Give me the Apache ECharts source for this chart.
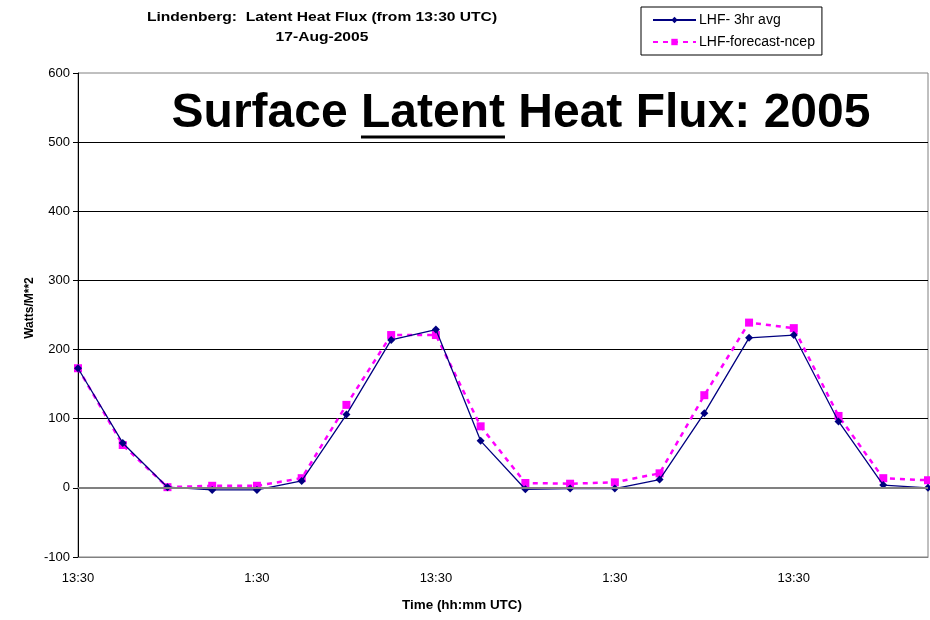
<!DOCTYPE html>
<html>
<head>
<meta charset="utf-8">
<script src="https://cdn.jsdelivr.net/npm/echarts@6/dist/echarts.min.js"></script>
<style>
  html, body { margin: 0; padding: 0; background: #fff; }
  #chart { width: 930px; height: 620px; }
</style>
</head>
<body>
<div id="chart"></div>
<script>
// 3-hourly time steps starting 13:30 UTC
const timeLabels = [
  '13:30', '16:30', '19:30', '22:30', '1:30', '4:30', '7:30', '10:30',
  '13:30', '16:30', '19:30', '22:30', '1:30', '4:30', '7:30', '10:30',
  '13:30', '16:30', '19:30', '22:30'
];
// Observed latent heat flux, 3-hour averages (W/m^2)
const lhfObserved = [173, 65, 1, -3, -3, 10, 106, 214, 229, 68, -2, -1, -1, 12, 108, 217, 221, 96, 4, 0];
// NCEP forecast latent heat flux (W/m^2)
const lhfForecast = [173, 62, 1, 3, 3, 14, 120, 221, 221, 89, 7, 6, 8, 21, 134, 239, 231, 104, 14, 11];

const yTicks = { min: -100, max: 600, step: 100 };

const FONT = '"Liberation Sans", Arial, sans-serif';
const chart = echarts.init(document.getElementById('chart'));

// Banner text with "Latent" underlined; widths measured so the rule sits under the word
const bannerFont = 'bold 48px "Liberation Sans", Arial, sans-serif';
const ctx = document.createElement('canvas').getContext('2d');
ctx.font = bannerFont;
const partA = 'Surface ';
const partB = 'Latent';
const partC = ' Heat Flux: 2005';
const wA = ctx.measureText(partA).width;
const wB = ctx.measureText(partB).width;
const wC = ctx.measureText(partC).width;
const bannerLeft = 521 - (wA + wB + wC) / 2;

function label(text, x, y, size, sx, extra) {
  return Object.assign({
    type: 'text',
    x: x,
    y: y,
    scaleX: sx,
    style: {
      text: text,
      font: 'bold ' + size + 'px "Liberation Sans", Arial, sans-serif',
      fill: '#000',
      align: 'center',
      verticalAlign: 'middle'
    }
  }, extra || {});
}

const option = {
  animation: false,
  textStyle: { fontFamily: FONT },
  legend: {
    orient: 'vertical',
    left: 641,
    top: 7,
    padding: [6, 7, 6, 11],
    itemGap: 8,
    itemWidth: 43,
    itemHeight: 8,
    borderColor: '#000',
    borderWidth: 1,
    textStyle: { fontSize: 14, color: '#000', fontFamily: FONT, padding: [0, 0, 0, -2] },
    data: ['LHF- 3hr avg', 'LHF-forecast-ncep']
  },
  grid: {
    left: 78,
    right: 2,
    top: 73,
    bottom: 63,
    show: true,
    borderColor: '#808080',
    borderWidth: 1
  },
  xAxis: {
    type: 'category',
    data: timeLabels,
    boundaryGap: false,
    axisLine: { onZero: false, lineStyle: { color: '#808080', width: 1 } },
    axisTick: { show: false },
    axisLabel: {
      interval: 3,
      margin: 15,
      fontSize: 13,
      color: '#000',
      fontFamily: FONT
    },
    splitLine: { show: false }
  },
  yAxis: {
    type: 'value',
    min: yTicks.min,
    max: yTicks.max,
    interval: yTicks.step,
    axisLine: { show: true, lineStyle: { color: '#000', width: 1 } },
    axisTick: { show: true, length: 5, lineStyle: { color: '#000' } },
    axisLabel: { fontSize: 13, color: '#000', margin: 8, fontFamily: FONT },
    splitLine: { show: true, showMinLine: false, showMaxLine: false, lineStyle: { color: '#000', width: 1 } }
  },
  graphic: [
    label('Lindenberg:  Latent Heat Flux (from 13:30 UTC)', 322, 17, 13, 1.2),
    label('17-Aug-2005', 322, 37, 13, 1.2),
    label('Time (hh:mm UTC)', 462, 606, 12, 1.12),
    label('Watts/M**2', 30, 308, 12, 1, { rotation: Math.PI / 2 }),
    {
      type: 'group',
      z: 10,
      children: [
        {
          type: 'text',
          x: bannerLeft,
          y: 114,
          style: {
            text: partA + partB + partC,
            font: bannerFont,
            fill: '#000',
            align: 'left',
            verticalAlign: 'middle'
          }
        },
        {
          type: 'line',
          shape: { x1: bannerLeft + wA, y1: 137, x2: bannerLeft + wA + wB, y2: 137 },
          style: { stroke: '#000', lineWidth: 3 }
        }
      ]
    }
  ],
  series: [
    {
      // zero reference line drawn beneath the data
      type: 'line',
      data: [],
      z: 1,
      silent: true,
      markLine: {
        silent: true,
        symbol: 'none',
        label: { show: false },
        lineStyle: { color: '#808080', width: 2, type: 'solid' },
        data: [{ yAxis: 0 }]
      }
    },
    {
      name: 'LHF-forecast-ncep',
      type: 'line',
      data: lhfForecast,
      z: 3,
      symbol: 'rect',
      symbolSize: 8,
      itemStyle: { color: '#FF00FF' },
      lineStyle: { color: '#FF00FF', width: 2.5, type: [5, 5] }
    },
    {
      name: 'LHF- 3hr avg',
      type: 'line',
      data: lhfObserved,
      z: 4,
      symbol: 'diamond',
      symbolSize: 8,
      itemStyle: { color: '#000080' },
      lineStyle: { color: '#000080', width: 1.3 }
    }
  ]
};

chart.setOption(option);
</script>
</body>
</html>
